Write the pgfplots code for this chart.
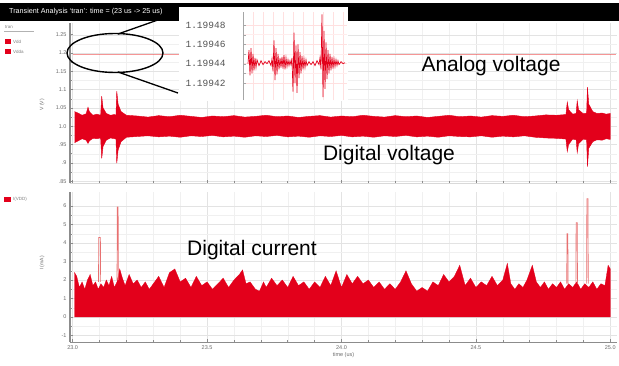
\documentclass[border=0pt]{standalone}
\usepackage{fontspec}
\setmainfont{Liberation Sans}
\newfontfamily\monof{Liberation Mono}
\usepackage{pgfplots}
\pgfplotsset{compat=1.18}
\usepackage{pgfplotstable}
\definecolor{sigred}{HTML}{E3001B}
\definecolor{pinkline}{HTML}{E87070}
\definecolor{analog}{HTML}{EE4040}
\definecolor{spine}{HTML}{8C8C8C}

% Digital voltage band: upper envelope left->right, lower envelope right->left
\pgfplotstableread{
t v
23.007 1.040
23.020 1.036
23.035 1.030
23.050 1.034
23.057 1.052
23.062 1.040
23.075 1.030
23.090 1.033
23.104 1.030
23.108 1.082
23.113 1.050
23.125 1.035
23.140 1.030
23.155 1.032
23.161 1.030
23.164 1.096
23.169 1.060
23.180 1.040
23.200 1.030
23.240 1.028
23.280 1.025
23.320 1.029
23.360 1.026
23.400 1.030
23.440 1.027
23.480 1.024
23.520 1.028
23.560 1.026
23.600 1.029
23.640 1.025
23.680 1.027
23.720 1.030
23.760 1.026
23.800 1.028
23.840 1.024
23.880 1.027
23.920 1.029
23.960 1.025
24.000 1.028
24.040 1.026
24.080 1.030
24.120 1.027
24.160 1.025
24.200 1.029
24.240 1.026
24.280 1.028
24.320 1.024
24.360 1.027
24.400 1.030
24.440 1.026
24.480 1.028
24.520 1.025
24.560 1.029
24.600 1.027
24.640 1.030
24.680 1.026
24.720 1.028
24.760 1.031
24.800 1.030
24.835 1.032
24.840 1.066
24.845 1.045
24.860 1.033
24.873 1.035
24.877 1.070
24.882 1.045
24.900 1.034
24.912 1.036
24.915 1.107
24.920 1.060
24.935 1.040
24.950 1.035
24.970 1.036
24.985 1.033
25.000 1.035
25.000 0.964
24.985 0.966
24.970 0.962
24.950 0.963
24.935 0.958
24.920 0.940
24.915 0.890
24.912 0.963
24.900 0.965
24.882 0.952
24.877 0.928
24.873 0.963
24.860 0.965
24.845 0.950
24.840 0.931
24.835 0.965
24.800 0.967
24.760 0.968
24.720 0.970
24.680 0.974
24.640 0.971
24.600 0.973
24.560 0.970
24.520 0.974
24.480 0.971
24.440 0.972
24.400 0.974
24.360 0.970
24.320 0.973
24.280 0.971
24.240 0.975
24.200 0.972
24.160 0.974
24.120 0.970
24.080 0.973
24.040 0.971
24.000 0.975
23.960 0.972
23.920 0.974
23.880 0.970
23.840 0.973
23.800 0.971
23.760 0.975
23.720 0.972
23.680 0.974
23.640 0.970
23.600 0.973
23.560 0.971
23.520 0.975
23.480 0.972
23.440 0.974
23.400 0.970
23.360 0.973
23.320 0.971
23.280 0.974
23.240 0.972
23.200 0.970
23.180 0.958
23.169 0.935
23.164 0.899
23.161 0.965
23.155 0.966
23.140 0.968
23.125 0.962
23.113 0.945
23.108 0.912
23.104 0.968
23.090 0.966
23.075 0.967
23.062 0.960
23.057 0.953
23.050 0.962
23.035 0.966
23.020 0.960
23.007 0.955
}\vband

% Digital current (top of filled area)
\pgfplotstableread{
t i
23.007 0
23.007 2.4
23.015 2.2
23.025 1.6
23.035 1.9
23.045 1.5
23.055 2.0
23.065 2.3
23.075 1.7
23.085 1.9
23.095 1.5
23.105 1.8
23.115 1.6
23.125 2.0
23.135 1.7
23.145 2.2
23.155 1.6
23.165 1.9
23.175 2.6
23.185 2.1
23.195 1.7
23.21 2.3
23.225 1.8
23.24 2.0
23.255 1.6
23.27 1.9
23.285 1.5
23.30 1.8
23.32 2.2
23.34 1.6
23.36 2.4
23.38 2.6
23.40 1.9
23.42 2.1
23.44 1.6
23.46 2.2
23.48 1.7
23.50 1.9
23.52 1.5
23.54 1.8
23.56 2.1
23.58 1.6
23.60 2.0
23.62 2.3
23.632 2.55
23.645 1.8
23.66 1.9
23.68 1.5
23.695 1.4
23.71 1.9
23.72 1.6
23.74 2.1
23.76 1.7
23.78 2.0
23.80 1.6
23.82 2.2
23.84 1.7
23.86 1.9
23.88 1.5
23.90 1.9
23.92 1.6
23.94 2.2
23.96 1.7
23.98 2.5
24.00 1.6
24.02 2.3
24.04 1.8
24.06 2.2
24.08 1.8
24.10 2.0
24.12 1.6
24.14 1.9
24.16 1.5
24.18 1.8
24.20 1.5
24.22 1.9
24.24 2.5
24.26 1.8
24.28 1.4
24.30 1.6
24.32 1.4
24.34 1.9
24.36 1.7
24.38 2.3
24.40 1.9
24.42 2.2
24.44 2.8
24.46 1.7
24.48 2.1
24.50 1.6
24.52 1.9
24.54 1.7
24.56 2.2
24.58 1.7
24.60 2.0
24.617 2.9
24.63 1.8
24.645 1.5
24.66 1.8
24.675 1.6
24.69 2.0
24.71 2.8
24.725 1.9
24.74 1.6
24.755 1.9
24.77 1.5
24.785 1.8
24.80 1.6
24.815 1.9
24.83 1.5
24.845 1.8
24.86 1.6
24.875 1.9
24.89 1.5
24.905 1.8
24.92 1.6
24.935 1.9
24.95 1.5
24.965 1.8
24.98 1.7
24.992 2.8
25.00 2.6
25.00 0
}\curr

\pgfplotsset{
  panel/.style={
    scale only axis, width=547bp,
    xmin=22.99, xmax=25.025,
    axis x line*=bottom, axis y line*=left,
    y axis line style={line width=2.5bp, spine},
    x axis line style={spine},
    grid=both,
    major grid style={gray!22, line width=0.4bp},
    minor grid style={gray!12, line width=0.3bp},
    tick style={spine, line width=0.5bp},
    major tick length=3bp, minor tick length=1.8bp,
    tick label style={font=\fontsize{5.5bp}{6bp}\selectfont, text=gray!85!black},
    xtick={23,23.5,24,24.5,25},
    minor x tick num=4,
    minor y tick num=1,
  }
}

\begin{document}
\begin{tikzpicture}
\path[use as bounding box, fill=white] (0,0) rectangle (619bp,-366bp);
% title bar
\fill[black] (0,-3bp) rectangle (619bp,-21bp);
\node[anchor=west, text=white, font=\fontsize{7.2bp}{8bp}\selectfont, inner sep=0] at (9bp,-12bp)
  {Transient Analysis `tran': time = (23 us -> 25 us)};

% upper panel: voltages
\begin{axis}[panel, at={(70bp,-183bp)}, anchor=south west, height=160bp,
  ymin=0.845, ymax=1.282,
  ytick={0.85,0.9,0.95,1,1.05,1.1,1.15,1.2,1.25},
  yticklabels={.85,.9,.95,1.0,1.05,1.1,1.15,1.2,1.25},
  xticklabels={}, x axis line style={gray!30}]
\addplot[draw=analog, line width=1.1bp, opacity=0.55] coordinates {(23.0,1.197) (25.02,1.197)};
\addplot[fill=sigred, draw=sigred, line width=0.4bp] table[x=t,y=v]{\vband};
\end{axis}

% lower panel: current
\begin{axis}[panel, at={(70bp,-342bp)}, anchor=south west, height=150bp,
  ymin=-1.35, ymax=6.76,
  ytick={-1,0,1,2,3,4,5,6},
  yticklabels={-1,0,1,2,3,4,5,6},
  xticklabels={23.0,23.5,24.0,24.5,25.0},
  xlabel={time (us)},
  xlabel style={font=\fontsize{5.5bp}{6bp}\selectfont, text=gray!85!black, yshift=4bp}]
\addplot[fill=sigred, draw=sigred, line width=0.3bp] table[x=t,y=i]{\curr};
\addplot[pinkline, line width=0.7bp] coordinates {(23.096,1.9)(23.097,4.3)(23.103,4.3)(23.104,1.9)};
\addplot[pinkline, line width=0.7bp] coordinates {(23.165,2.0)(23.166,5.95)(23.169,5.95)(23.170,2.0)};
\addplot[pinkline, line width=0.7bp] coordinates {(24.838,1.8)(24.839,4.5)(24.842,4.5)(24.843,1.8)};
\addplot[pinkline, line width=0.7bp] coordinates {(24.872,1.8)(24.873,5.1)(24.877,5.1)(24.878,1.8)};
\addplot[pinkline, line width=0.7bp] coordinates {(24.912,1.8)(24.913,6.4)(24.917,6.4)(24.918,1.8)};
\end{axis}

% zoom ellipse and connector lines
\draw[line width=1.4bp] (115bp,-53bp) ellipse [x radius=48bp, y radius=19.5bp];
\draw[line width=1.3bp] (118bp,-34bp) -- (172bp,-15bp);
\draw[line width=1.3bp] (118bp,-72bp) -- (178bp,-93bp);

% inset
\fill[white] (179bp,-7bp) rectangle (348bp,-101bp);
\begin{axis}[scale only axis, at={(243bp,-100bp)}, anchor=south west,
  width=104bp, height=88bp, xmin=0, xmax=104, ymin=0.24, ymax=9.34,
  axis x line*=bottom, axis y line*=left,
  x axis line style={draw=none}, y axis line style={gray!70, line width=0.6bp},
  xtick={10,20,30,40,50,60,70,80,90,100}, xticklabels={}, xtick style={draw=none},
  ytick={2,4,6,8}, yticklabels={1.19942,1.19944,1.19946,1.19948},
  minor y tick num=1,
  ytick style={gray!70}, major tick length=3bp,
  yticklabel style={font=\monof\fontsize{9.5bp}{10bp}\selectfont, text=gray!65!black, anchor=east, xshift=-14bp},
  grid=both, major grid style={red!12, line width=0.4bp}, minor grid style={red!7}]
\addplot[sigred, line width=0.7bp] coordinates {
(5,4.0)(6,5.4)(7,2.8)(8,5.6)(9,3.0)(10,5.0)(11,3.3)(12,4.6)(13,3.6)(14,4.4)(16,3.8)(18,4.3)
(20,3.9)(22,4.2)(24,4.0)(26,4.3)(28,3.8)(29,4.5)(30,3.2)(31,6.4)(32,2.3)(33,5.6)(34,2.9)
(35,5.0)(36,3.4)(37,4.6)(38,3.6)(39,4.7)(40,3.5)(41,4.9)(42,3.4)(43,4.6)(44,3.7)(45,4.4)
(46,3.8)(47,4.3)(48,3.9)(49,4.6)(50,1.1)(51,7.2)(52,2.0)(53,5.9)(54,0.97)(55,6.0)(56,2.5)
(57,5.2)(58,3.0)(59,4.8)(60,3.4)(61,4.5)(62,3.6)(63,4.4)(64,3.8)(66,4.2)(68,3.9)(70,4.2)
(72,3.8)(74,4.3)(76,3.9)(77,4.6)(78,3.4)(79,9.1)(80,0.55)(81,7.4)(82,1.4)(83,6.2)(84,2.4)
(85,5.4)(86,3.0)(87,5.0)(88,3.3)(89,4.7)(90,3.5)(91,4.5)(92,3.7)(93,4.4)(94,3.8)(95,4.3)
(96,3.9)(98,4.2)(100,4.0)(102,4.1)};
\end{axis}

% annotations
\node[font=\fontsize{21bp}{24bp}\selectfont] at (491bp,-66bp) {Analog voltage};
\node[font=\fontsize{21bp}{24bp}\selectfont] at (389bp,-155bp) {Digital voltage};
\node[font=\fontsize{21bp}{24bp}\selectfont] at (252bp,-250bp) {Digital current};

% legends / axis labels
\node[anchor=west, font=\fontsize{4.5bp}{5bp}\selectfont, text=gray, inner sep=0] at (5bp,-27bp) {tran};
\draw[gray!60, line width=0.4bp] (4bp,-31bp) -- (34bp,-31bp);
\fill[sigred] (5bp,-39bp) rectangle (11bp,-44bp);
\node[anchor=west, font=\fontsize{4.5bp}{5bp}\selectfont, text=gray, inner sep=0] at (13bp,-41.5bp) {Vdd};
\fill[sigred] (5bp,-49bp) rectangle (11bp,-54bp);
\node[anchor=west, font=\fontsize{4.5bp}{5bp}\selectfont, text=gray, inner sep=0] at (13bp,-51.5bp) {Vdda};
\fill[sigred] (4bp,-197bp) rectangle (11bp,-202bp);
\node[anchor=west, font=\fontsize{4.5bp}{5bp}\selectfont, text=gray, inner sep=0] at (13bp,-199.5bp) {I(VDD)};
\node[rotate=90, font=\fontsize{5bp}{6bp}\selectfont, text=gray!85!black] at (42bp,-105bp) {V (V)};
\node[rotate=90, font=\fontsize{5bp}{6bp}\selectfont, text=gray!85!black] at (42bp,-263bp) {I (mA)};
\end{tikzpicture}
\end{document}
